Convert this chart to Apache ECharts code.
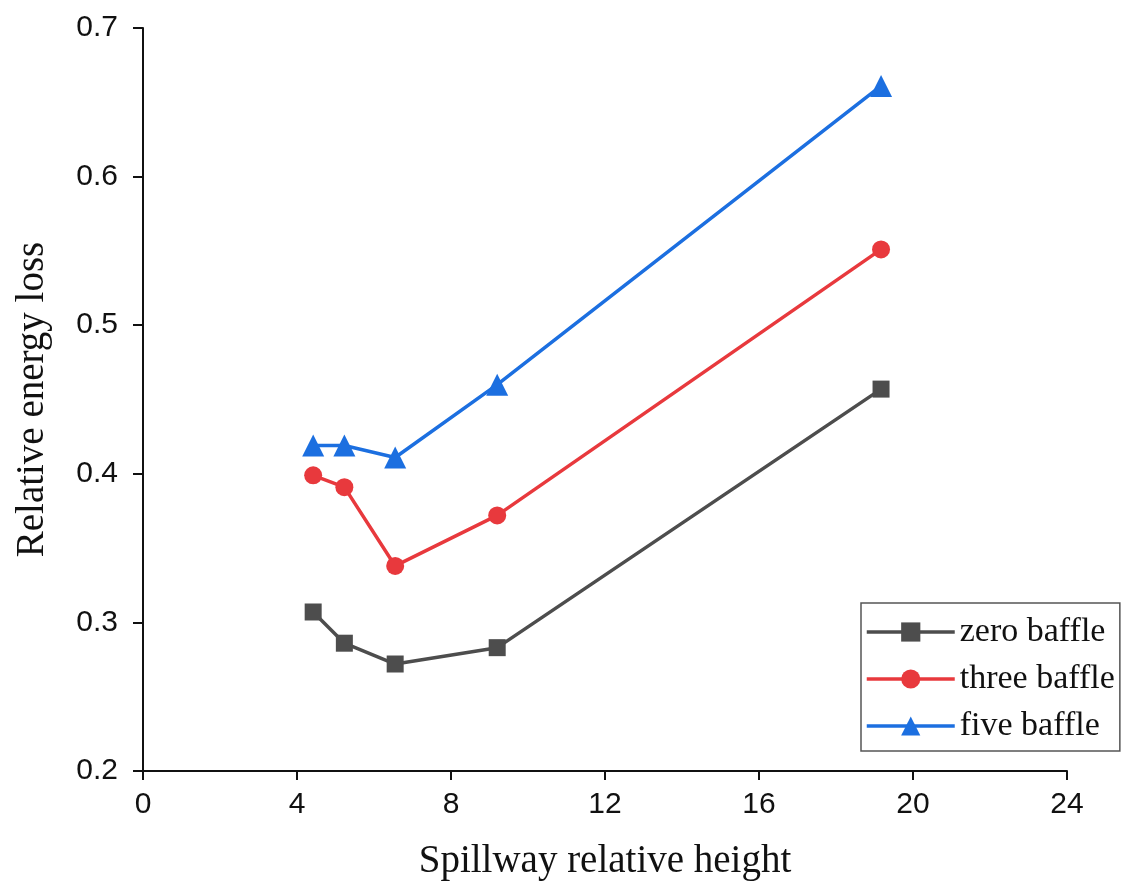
<!DOCTYPE html>
<html>
<head>
<meta charset="utf-8">
<script src="https://cdn.jsdelivr.net/npm/echarts@6/dist/echarts.min.js"></script>
<style>
  html, body { margin: 0; padding: 0; background: #fff; }
  #chart { width: 1128px; height: 890px; }
</style>
</head>
<body>
<div id="chart"></div>
<script>
// Spillway relative height (x) for each measurement
const heights = [4.42, 5.23, 6.55, 9.2, 19.17];
// Relative energy loss for each baffle configuration
const zeroBaffle = [0.307, 0.286, 0.272, 0.283, 0.457];
const threeBaffle = [0.399, 0.391, 0.338, 0.372, 0.551];
const fiveBaffle = [0.419, 0.419, 0.411, 0.460, 0.661];
const seriesNames = ['zero baffle', 'three baffle', 'five baffle'];

const pairs = (ys) => heights.map((x, i) => [x, ys[i]]);

const serif = '"Liberation Serif", "Times New Roman", serif';
const sans = '"Liberation Sans", Arial, sans-serif';

const lineSeries = (name, ys, color, symbol, size) => ({
  name: name,
  type: 'line',
  data: pairs(ys),
  symbol: symbol,
  symbolSize: size,
  lineStyle: { color: color, width: 3.5 },
  itemStyle: { color: color },
  z: 3
});

const chart = echarts.init(document.getElementById('chart'), null, { renderer: 'canvas' });
chart.setOption({
  animation: false,
  backgroundColor: '#fff',
  grid: { left: 143, right: 61, top: 28, bottom: 119, containLabel: false },
  xAxis: {
    type: 'value',
    min: 0, max: 24, interval: 4,
    name: 'Spillway relative height',
    nameLocation: 'middle',
    nameGap: 71,
    nameTextStyle: { fontFamily: serif, fontSize: 39, color: '#111' },
    axisLine: { show: true, lineStyle: { color: '#111', width: 2 } },
    axisTick: { show: true, inside: false, length: 9, lineStyle: { color: '#111', width: 2 } },
    axisLabel: { fontFamily: sans, fontSize: 30, color: '#111', margin: 19 },
    splitLine: { show: false }
  },
  yAxis: {
    type: 'value',
    min: 0.2, max: 0.7, interval: 0.1,
    name: 'Relative energy loss',
    nameLocation: 'middle',
    nameGap: 91,
    nameTextStyle: { fontFamily: serif, fontSize: 39, color: '#111' },
    axisLine: { show: true, lineStyle: { color: '#111', width: 2 } },
    axisTick: { show: true, inside: false, length: 10, lineStyle: { color: '#111', width: 2 } },
    axisLabel: { fontFamily: sans, fontSize: 30, color: '#111', margin: 25,
      formatter: (v) => v.toFixed(1) },
    splitLine: { show: false }
  },
  legend: {
    data: seriesNames,
    orient: 'vertical',
    left: 861,
    top: 603,
    itemWidth: 88,
    itemHeight: 24,
    itemGap: 13,
    padding: [12, 5, 8, 4],
    borderColor: '#555',
    borderWidth: 1.5,
    borderRadius: 0,
    backgroundColor: '#fff',
    lineStyle: { width: 3.5 },
    textStyle: { fontFamily: serif, fontSize: 34, color: '#111' }
  },
  series: [
    lineSeries(seriesNames[0], zeroBaffle, '#4d4d4d', 'rect', 17),
    lineSeries(seriesNames[1], threeBaffle, '#e8393d', 'circle', 18),
    lineSeries(seriesNames[2], fiveBaffle, '#1c6fe0', 'triangle', 22)
  ]
});
</script>
</body>
</html>
